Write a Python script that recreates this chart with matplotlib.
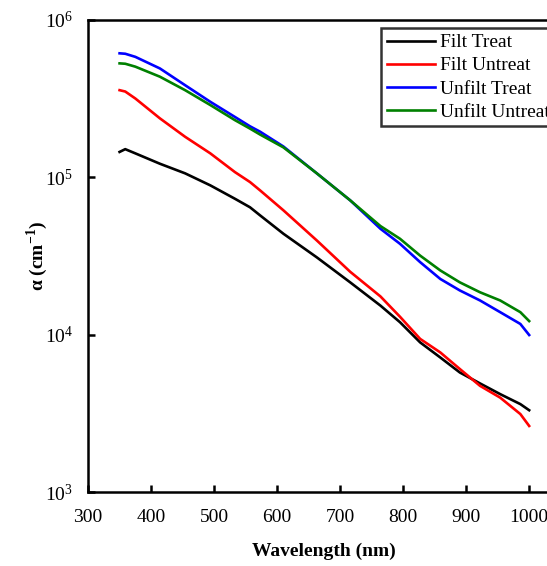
import numpy as np
import matplotlib
matplotlib.use("Agg")
import matplotlib.pyplot as plt
from matplotlib.ticker import LogLocator, LogFormatterMathtext, NullLocator

plt.rcParams['font.family'] = ['Liberation Serif', 'DejaVu Serif']
plt.rcParams['mathtext.fontset'] = 'custom'
plt.rcParams['mathtext.rm'] = 'Liberation Serif'
plt.rcParams['mathtext.bf'] = 'Liberation Serif:bold'

# wavelength (nm)
wl = [350, 359, 375, 414, 454, 494, 533, 557, 573, 610, 663, 716, 764, 795, 827, 859,
      890, 922, 954, 986, 1000]

# absorption coefficient (cm^-1)
filt_treat = [1.45e5, 1.51e5, 1.42e5, 1.22e5, 1.06e5, 8.89e4, 7.31e4, 6.45e4, 5.73e4,
              4.38e4, 3.10e4, 2.15e4, 1.53e4, 1.20e4, 8.93e3, 7.16e3, 5.75e3, 4.90e3,
              4.19e3, 3.62e3, 3.31e3]
filt_untreat = [3.58e5, 3.51e5, 3.17e5, 2.37e5, 1.81e5, 1.42e5, 1.08e5, 9.33e4, 8.26e4,
                6.17e4, 3.97e4, 2.51e4, 1.75e4, 1.30e4, 9.40e3, 7.71e3, 6.05e3, 4.73e3,
                3.98e3, 3.13e3, 2.63e3]
unfilt_treat = [6.14e5, 6.10e5, 5.83e5, 4.92e5, 3.85e5, 3.02e5, 2.42e5, 2.11e5, 1.95e5,
                1.57e5, 1.06e5, 7.14e4, 4.71e4, 3.78e4, 2.89e4, 2.26e4, 1.91e4, 1.65e4,
                1.39e4, 1.17e4, 9.95e3]
unfilt_untreat = [5.30e5, 5.27e5, 5.05e5, 4.36e5, 3.58e5, 2.88e5, 2.31e5, 2.04e5, 1.87e5,
                  1.55e5, 1.06e5, 7.14e4, 4.90e4, 4.07e4, 3.18e4, 2.56e4, 2.15e4, 1.86e4,
                  1.65e4, 1.39e4, 1.22e4]

fig = plt.figure(figsize=(5.47, 5.66), dpi=100)
ax = fig.add_axes([0.161, 0.1307, 0.864, 0.834])

lw = 1.9
ax.plot(wl, filt_treat, color='black', lw=lw, label='Filt Treat')
ax.plot(wl, filt_untreat, color='red', lw=lw, label='Filt Untreat')
ax.plot(wl, unfilt_treat, color='blue', lw=lw, label='Unfilt Treat')
ax.plot(wl, unfilt_untreat, color='green', lw=lw, label='Unfilt Untreat')

ax.set_yscale('log')
ax.set_ylim(1e3, 1e6)
ax.set_xlim(300, 1050)
ax.set_xticks(np.arange(300, 1001, 100))
ax.yaxis.set_major_locator(LogLocator(base=10, numticks=10))
ax.yaxis.set_major_formatter(LogFormatterMathtext())
ax.yaxis.set_minor_locator(NullLocator())

for s in ax.spines.values():
    s.set_linewidth(1.8)
ax.tick_params(axis='both', which='major', direction='in', length=5, width=1.8,
               labelsize=14)
ax.tick_params(axis='x', pad=12)
ax.tick_params(axis='y', pad=11)

ax.set_xlabel('Wavelength (nm)', fontsize=14, fontweight='bold', labelpad=12)
ax.set_ylabel(r'α (cm$^{\mathbf{-1}}$)', fontsize=14, fontweight='bold', labelpad=-4)

leg = ax.legend(loc='upper left', bbox_to_anchor=(381 / 547, 1 - 28 / 566),
                bbox_transform=fig.transFigure, fontsize=14, frameon=True,
                fancybox=False, borderpad=0.3, labelspacing=0.28, handlelength=2.5,
                handletextpad=0.25, borderaxespad=0)
leg.get_frame().set_edgecolor('black')
leg.get_frame().set_linewidth(1.8)

fig.savefig('out.png', dpi=100)
